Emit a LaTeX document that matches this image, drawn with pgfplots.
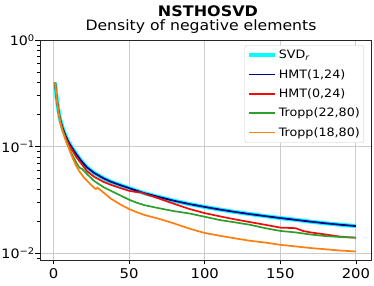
\documentclass[border=0pt]{standalone}
\usepackage{pgfplots}
\pgfplotsset{compat=1.18}
\usepackage{pgfplotstable}
\usepackage{fontspec}
\setmainfont{DejaVu Sans}[FakeStretch=1.1]
\definecolor{cyanc}{RGB}{0,255,255}
\definecolor{navyc}{RGB}{0,0,139}
\definecolor{tgreen}{RGB}{44,160,44}
\definecolor{torange}{RGB}{255,127,14}
\definecolor{redc}{RGB}{245,10,10}

\pgfplotstableread{
x b
1 0.40
2 0.29
3 0.23
4 0.19
5 0.167
6 0.150
8 0.126
10 0.110
12 0.0985
15 0.0850
18 0.0745
22 0.0640
27 0.0565
33 0.0505
38 0.0468
44 0.0436
50 0.0408
55 0.0386
60 0.0366
70 0.0336
80 0.0310
90 0.0289
100 0.0272
110 0.0257
120 0.0244
130 0.0233
140 0.0223
150 0.0214
160 0.0206
170 0.0198
180 0.0191
190 0.0185
200 0.0180
}\dataB

\pgfplotstableread{
x r
1 0.40
2 0.29
3 0.228
4 0.188
5 0.164
6 0.146
8 0.122
10 0.106
11 0.100
15 0.080
20 0.0645
22 0.0590
27 0.0520
33 0.0468
38 0.0438
44 0.0410
50 0.0385
55 0.0375
58 0.0372
62 0.0354
66 0.0340
70 0.0325
80 0.0290
90 0.0260
100 0.0238
110 0.0222
120 0.0208
130 0.0196
140 0.0185
150 0.0174
155 0.0173
160 0.0172
165 0.0162
170 0.0157
180 0.0150
190 0.0143
200 0.0140
}\dataR

\pgfplotstableread{
x g
1 0.40
2 0.29
3 0.225
4 0.185
5 0.160
6 0.142
8 0.117
10 0.099
12 0.086
15 0.071
17 0.064
18 0.0625
19 0.0615
22 0.0555
27 0.0475
33 0.0418
38 0.0385
44 0.0350
50 0.0318
55 0.0298
60 0.0283
70 0.0264
80 0.0248
90 0.0236
100 0.0220
110 0.0205
120 0.0195
130 0.0185
140 0.0172
150 0.0162
160 0.0157
170 0.0150
180 0.0145
190 0.0142
200 0.0140
}\dataG

\pgfplotstableread{
x o
1 0.40
2 0.29
3 0.222
4 0.182
5 0.156
6 0.139
8 0.115
10 0.097
12 0.082
14.7 0.067
17 0.059
20 0.0515
24 0.0450
27 0.0410
28 0.0400
29 0.0412
31 0.0392
35 0.0352
38 0.0325
44 0.0288
50 0.0260
55 0.0243
60 0.0229
70 0.0210
80 0.0190
90 0.0170
100 0.0155
110 0.0146
120 0.0138
130 0.0131
140 0.0126
150 0.0120
160 0.0116
170 0.0112
180 0.0109
190 0.0106
200 0.0104
}\dataO

\begin{document}
\begin{tikzpicture}
\path[use as bounding box] (0bp,0bp) rectangle (374bp,286bp);
\node[anchor=base, font=\fontsize{14.6}{16}\selectfont\bfseries] at (208bp,269.3bp) {NSTHOSVD};
\node[anchor=base, font=\fontsize{14.3}{16}\selectfont] at (201bp,255.5bp) {Density of negative elements};
\begin{axis}[
  at={(40bp,26bp)}, anchor=south west,
  scale only axis, width=331bp, height=220bp,
  ymode=log,
  xmin=-8.95, xmax=209.95, ymin=0.00865, ymax=1,
  xtick={0,50,100,150,200},
  ytick={0.01,0.1,1},
  yticklabels={10\textsuperscript{−2},10\textsuperscript{−1},10\textsuperscript{0}},
  minor ytick={0.009,0.02,0.03,0.04,0.05,0.06,0.07,0.08,0.09,0.2,0.3,0.4,0.5,0.6,0.7,0.8,0.9},
  grid=major,
  major grid style={black!20, line width=1bp},
  tick align=outside, tick pos=left,
  major tick length=4.5bp, minor tick length=2.6bp,
  every tick/.style={black, line width=0.9bp},
  minor tick style={black, line width=0.7bp},
  axis line style={black!85, line width=0.9bp},
  ticklabel style={font=\fontsize{13.5}{15}\selectfont},
  xticklabel style={yshift=-0.5bp},
  yticklabel style={font=\fontsize{13}{15}\selectfont, inner xsep=0.5bp},
  /pgf/number format/assume math mode=true,
  legend style={at={(0.979,0.977)}, anchor=north east, draw=black!20, rounded corners=2.5bp,
    fill=white,
    font=\fontsize{11.6}{13}\selectfont,
    inner xsep=2bp, inner ysep=3bp, row sep=5.1bp,
    cells={anchor=west}},
  legend image code/.code={\draw[mark repeat=2,mark phase=2,#1] plot coordinates {(0bp,0bp) (13bp,0bp) (26bp,0bp)};},
]
\addplot[color=cyanc, line width=4bp] table[x=x,y=b] {\dataB};
\addlegendentry{SVD\textsubscript{\itshape r}}
\addplot[color=navyc, line width=1.8bp] table[x=x,y=b] {\dataB};
\addlegendentry{HMT(1,24)}
\addplot[color=redc, line width=1.7bp] table[x=x,y=r] {\dataR};
\addlegendentry{HMT(0,24)}
\addplot[color=tgreen, line width=1.7bp] table[x=x,y=g] {\dataG};
\addlegendentry{Tropp(22,80)}
\addplot[color=torange, line width=1.7bp] table[x=x,y=o] {\dataO};
\addlegendentry{Tropp(18,80)}
\end{axis}
\end{tikzpicture}
\end{document}
